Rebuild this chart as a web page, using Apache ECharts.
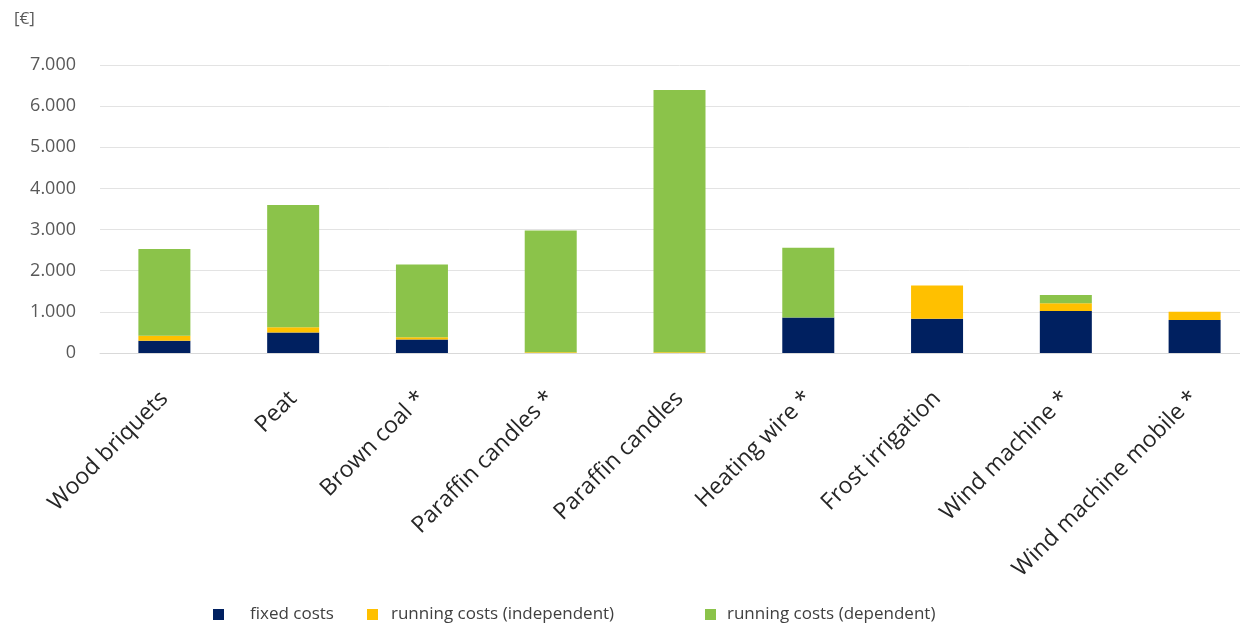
<!DOCTYPE html>
<html>
<head>
<meta charset="utf-8">
<script src="https://cdn.jsdelivr.net/npm/echarts@6/dist/echarts.min.js"></script>
<style>html,body{margin:0;padding:0;background:#fff;overflow:hidden;width:1240px;height:626px;}#c{width:1260px;height:626px;}</style>
</head>
<body>
<div id="c"></div>
<script>
const categories = ["Wood briquets", "Peat", "Brown coal *", "Paraffin candles *", "Paraffin candles", "Heating wire *", "Frost irrigation", "Wind machine *", "Wind machine mobile *"];
const fixedCosts = [300, 500, 330, 0, 0, 860, 830, 1020, 800];
const runningIndependent = [120, 125, 50, 20, 20, 0, 810, 190, 200];
const runningDependent = [2110, 2975, 1770, 2960, 6370, 1700, 0, 200, 0];
const yTicks = [0, 1000, 2000, 3000, 4000, 5000, 6000, 7000];

const chart = echarts.init(document.getElementById('c'), null, {renderer: 'canvas'});
const font = '"Open Sans", "Liberation Sans", sans-serif';
function legendAt(left, name, pad) {
  return {
    left: left, top: 601, itemWidth: 11, itemHeight: 11, icon: 'rect',
    selectedMode: false, data: [name],
    textStyle: {fontFamily: font, fontSize: 17, color: '#404040', padding: [0, 0, 0, pad]}
  };
}
chart.setOption({
  animation: false,
  backgroundColor: '#ffffff',
  graphic: [{type: 'text', left: 14, top: 11, style: {text: '[€]', font: '17px ' + font, fill: '#595959'}}],
  legend: [
    legendAt(208, 'fixed costs', 21),
    legendAt(362, 'running costs (independent)', 8),
    legendAt(700, 'running costs (dependent)', 6)
  ],
  grid: {left: 100, top: 65, right: 1, bottom: 273, containLabel: false},
  xAxis: {
    type: 'category', data: categories,
    axisLine: {lineStyle: {color: '#d9d9d9'}},
    axisTick: {show: false},
    axisLabel: {rotate: 45, interval: 0, fontFamily: font, fontSize: 23, color: '#262626', margin: 42}
  },
  yAxis: {
    type: 'value', min: yTicks[0], max: yTicks[yTicks.length - 1], interval: 1000,
    axisLine: {show: false}, axisTick: {show: false},
    splitLine: {lineStyle: {color: '#e3e3e3'}},
    axisLabel: {fontFamily: font, fontSize: 18, color: '#595959', margin: 24,
      formatter: v => v === 0 ? '0' : String(v).replace(/\B(?=(\d{3})+(?!\d))/g, '.')}
  },
  series: [
    {name: 'fixed costs', type: 'bar', stack: 's', data: fixedCosts, barWidth: 52, itemStyle: {color: '#002060'}},
    {name: 'running costs (independent)', type: 'bar', stack: 's', data: runningIndependent, itemStyle: {color: '#ffc000'}},
    {name: 'running costs (dependent)', type: 'bar', stack: 's', data: runningDependent, itemStyle: {color: '#8bc34a'}}
  ]
});
</script>
</body>
</html>
